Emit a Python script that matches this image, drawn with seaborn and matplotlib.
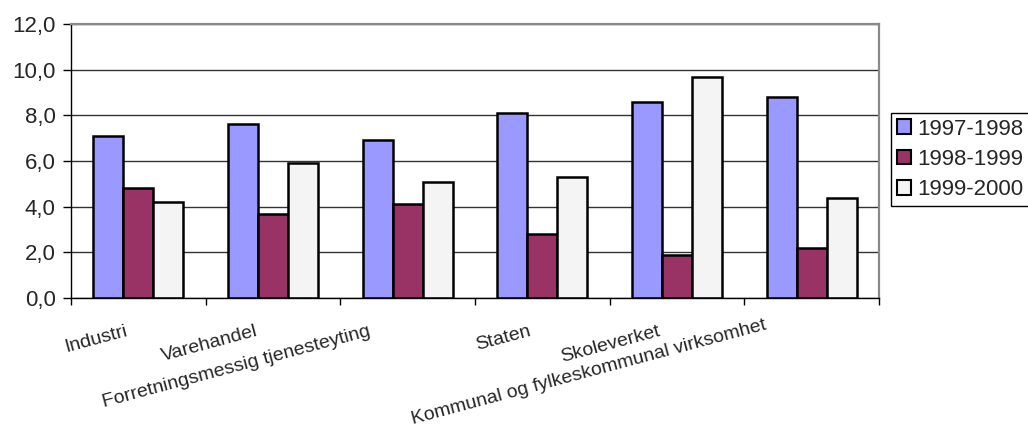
import pandas as pd
import numpy as np
import matplotlib
matplotlib.use('Agg')
import matplotlib.pyplot as plt
import matplotlib.transforms as mtrans
from matplotlib.ticker import FuncFormatter
import seaborn as sns

# data
sektorer = ['Industri', 'Varehandel', 'Forretningsmessig tjenesteyting',
            'Staten', 'Skoleverket', 'Kommunal og fylkeskommunal virksomhet']
perioder = ['1997-1998', '1998-1999', '1999-2000']
v_9798 = [7.1, 7.6, 6.9, 8.1, 8.6, 8.8]
v_9899 = [4.8, 3.7, 4.1, 2.8, 1.9, 2.2]
v_9900 = [4.2, 5.9, 5.1, 5.3, 9.7, 4.4]
y_ticks = [0, 2, 4, 6, 8, 10, 12]

df = pd.DataFrame({
    'sektor': sektorer * 3,
    'periode': np.repeat(perioder, len(sektorer)),
    'verdi': v_9798 + v_9899 + v_9900,
})

sns.set_style('white')
plt.rcParams['font.family'] = ['Liberation Sans', 'DejaVu Sans']

fig = plt.figure(figsize=(10.28, 4.32), dpi=100)
ax = fig.add_axes([71/1028, 1 - 298/432, (879 - 71)/1028, (298 - 24)/432])

farger = ['#9999FF', '#993366', '#F4F4F4']
sns.barplot(data=df, x='sektor', y='verdi', hue='periode', palette=farger,
            edgecolor='black', linewidth=1.8, width=0.668, gap=0,
            saturation=1, ax=ax)

ax.set_ylim(0, 12)
ax.set_xlim(-0.5, len(sektorer) - 0.5)
ax.set_yticks(y_ticks)
ax.yaxis.set_major_formatter(FuncFormatter(lambda v, p: f'{v:.1f}'.replace('.', ',')))
ax.tick_params(axis='y', which='major', direction='out', length=6, width=1,
               color='black', labelsize=16, pad=5, left=True)
ax.set_xlabel('')
ax.set_ylabel('')

# grid lines
ax.yaxis.grid(True, color='#333333', linewidth=1)
ax.set_axisbelow(True)

# spines like an old excel chart
for s in ['left', 'bottom']:
    ax.spines[s].set_color('black')
    ax.spines[s].set_linewidth(1)
for s in ['top', 'right']:
    ax.spines[s].set_color('#8a8a8a')
    ax.spines[s].set_linewidth(1.6)
    ax.spines[s].set_visible(True)

# ticks between groups, labels at centres
ax.set_xticks(np.arange(len(sektorer)))
ax.set_xticks(np.arange(len(sektorer) + 1) - 0.5, minor=True)
ax.set_xticklabels(sektorer, rotation=15, ha='right', va='top',
                   rotation_mode='anchor', fontsize=14)
ax.tick_params(axis='x', which='major', length=0, pad=18)
ax.tick_params(axis='x', which='minor', direction='out', length=5, width=1,
               color='black', bottom=True)

# shift each label a bit, like excel does (pixels)
dx_px = [-13, -18, -40, -14, -19, -48]
dy_px = [0, 0, 0, 0, 0, 6]
for lab, dx, dy in zip(ax.get_xticklabels(), dx_px, dy_px):
    lab.set_transform(lab.get_transform() +
                      mtrans.ScaledTranslation(dx/100, dy/100, fig.dpi_scale_trans))

# legend
handles, labels = ax.get_legend_handles_labels()
ax.get_legend().remove()
leg = ax.legend(handles, labels, loc='upper left',
                bbox_to_anchor=(891/1028, 1 - 113/432),
                bbox_transform=fig.transFigure, borderaxespad=0,
                fontsize=16, frameon=True, fancybox=False, framealpha=1,
                handlelength=0.65, handleheight=0.65, handletextpad=0.3,
                borderpad=0.25, labelspacing=0.42)
leg.get_frame().set_edgecolor('black')
leg.get_frame().set_linewidth(1)
for h in leg.legend_handles:
    h.set_edgecolor('black')
    h.set_linewidth(1.5)

fig.savefig('out.png', dpi=100, facecolor='white')
